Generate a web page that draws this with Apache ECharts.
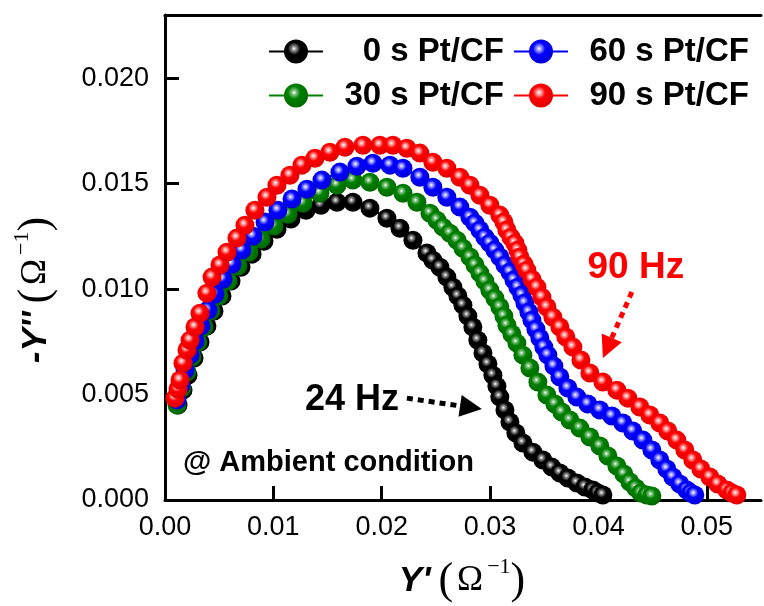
<!DOCTYPE html>
<html>
<head>
<meta charset="utf-8">
<title>Y' vs -Y''</title>
<style>
  html, body { margin: 0; background: #fff; }
  #chart { width: 764px; height: 606px; }
</style>
</head>
<body>
<div id="chart"></div>
<script src="https://cdn.jsdelivr.net/npm/echarts@6/dist/echarts.min.js"></script>
<script>
// tick values
const xTicks = [0, 0.01, 0.02, 0.03, 0.04, 0.05];
const yTicks = [0, 0.005, 0.010, 0.015, 0.020];

const names = ['0 s Pt/CF', '30 s Pt/CF', '60 s Pt/CF', '90 s Pt/CF'];

// [Y', -Y'']
const pt0 = [
  [0.00120, 0.00450], [0.00166, 0.00521], [0.00212, 0.00592], [0.00268, 0.00673],
  [0.00323, 0.00749], [0.00387, 0.00825], [0.00452, 0.00896], [0.00526, 0.00967],
  [0.00609, 0.01038], [0.00701, 0.01104], [0.00803, 0.01166], [0.00913, 0.01227],
  [0.01033, 0.01284], [0.01162, 0.01332], [0.01301, 0.01374], [0.01439, 0.01398],
  [0.01587, 0.01412], [0.01734, 0.01412], [0.01891, 0.01384], [0.02048, 0.01336],
  [0.02168, 0.01289], [0.02288, 0.01232], [0.02417, 0.01171], [0.02472, 0.01137],
  [0.02537, 0.01104], [0.02601, 0.01057], [0.02657, 0.01009], [0.02703, 0.00967],
  [0.02749, 0.00924], [0.02795, 0.00872], [0.02841, 0.00820], [0.02887, 0.00758],
  [0.02934, 0.00697], [0.02980, 0.00645], [0.03026, 0.00592], [0.03063, 0.00540],
  [0.03090, 0.00488], [0.03137, 0.00427], [0.03183, 0.00370], [0.03238, 0.00318],
  [0.03303, 0.00270], [0.03395, 0.00227], [0.03487, 0.00190], [0.03570, 0.00156],
  [0.03644, 0.00128], [0.03718, 0.00104], [0.03801, 0.00081], [0.03875, 0.00062],
  [0.03948, 0.00047], [0.03994, 0.00033], [0.04041, 0.00024]
];
const pt30 = [
  [0.00111, 0.00450], [0.00157, 0.00531], [0.00203, 0.00607], [0.00249, 0.00678],
  [0.00304, 0.00749], [0.00360, 0.00820], [0.00424, 0.00896], [0.00498, 0.00967],
  [0.00581, 0.01038], [0.00673, 0.01109], [0.00775, 0.01175], [0.00886, 0.01237],
  [0.01006, 0.01299], [0.01135, 0.01355], [0.01273, 0.01408], [0.01430, 0.01455],
  [0.01587, 0.01493], [0.01734, 0.01517], [0.01891, 0.01507], [0.02048, 0.01483],
  [0.02196, 0.01455], [0.02325, 0.01412], [0.02445, 0.01360], [0.02509, 0.01327],
  [0.02565, 0.01294], [0.02629, 0.01265], [0.02694, 0.01232], [0.02749, 0.01194],
  [0.02814, 0.01152], [0.02860, 0.01114], [0.02906, 0.01076], [0.02952, 0.01038],
  [0.02998, 0.00995], [0.03044, 0.00957], [0.03090, 0.00915], [0.03127, 0.00872],
  [0.03155, 0.00829], [0.03201, 0.00787], [0.03247, 0.00744], [0.03303, 0.00687],
  [0.03367, 0.00626], [0.03441, 0.00559], [0.03524, 0.00498], [0.03598, 0.00455],
  [0.03662, 0.00417], [0.03736, 0.00379], [0.03828, 0.00341], [0.03921, 0.00299],
  [0.04013, 0.00256], [0.04087, 0.00209], [0.04170, 0.00161], [0.04234, 0.00123],
  [0.04290, 0.00085], [0.04345, 0.00057], [0.04391, 0.00033], [0.04446, 0.00024],
  [0.04493, 0.00019]
];
const pt60 = [
  [0.00111, 0.00474], [0.00148, 0.00545], [0.00185, 0.00616], [0.00231, 0.00687],
  [0.00277, 0.00754], [0.00332, 0.00825], [0.00397, 0.00900], [0.00461, 0.00976],
  [0.00535, 0.01047], [0.00618, 0.01118], [0.00710, 0.01185], [0.00812, 0.01251],
  [0.00923, 0.01318], [0.01042, 0.01374], [0.01172, 0.01427], [0.01310, 0.01474],
  [0.01448, 0.01517], [0.01614, 0.01555], [0.01771, 0.01583], [0.01919, 0.01597],
  [0.02076, 0.01588], [0.02196, 0.01573], [0.02352, 0.01531], [0.02472, 0.01483],
  [0.02601, 0.01436], [0.02721, 0.01389], [0.02814, 0.01341], [0.02860, 0.01313],
  [0.02906, 0.01280], [0.02952, 0.01246], [0.02998, 0.01218], [0.03044, 0.01185],
  [0.03090, 0.01152], [0.03137, 0.01114], [0.03183, 0.01081], [0.03220, 0.01043],
  [0.03256, 0.01009], [0.03293, 0.00972], [0.03321, 0.00934], [0.03358, 0.00891],
  [0.03386, 0.00853], [0.03423, 0.00810], [0.03459, 0.00768], [0.03496, 0.00725],
  [0.03533, 0.00687], [0.03589, 0.00635], [0.03644, 0.00583], [0.03718, 0.00531],
  [0.03801, 0.00488], [0.03902, 0.00455], [0.04013, 0.00427], [0.04124, 0.00398],
  [0.04225, 0.00365], [0.04317, 0.00327], [0.04410, 0.00284], [0.04493, 0.00237],
  [0.04566, 0.00190], [0.04631, 0.00147], [0.04686, 0.00109], [0.04751, 0.00076],
  [0.04815, 0.00047], [0.04852, 0.00033], [0.04889, 0.00024]
];
const pt90 = [
  [0.00092, 0.00483], [0.00120, 0.00526], [0.00138, 0.00569], [0.00166, 0.00649],
  [0.00203, 0.00711], [0.00231, 0.00758], [0.00277, 0.00820], [0.00323, 0.00886],
  [0.00387, 0.00981], [0.00434, 0.01057], [0.00507, 0.01114], [0.00572, 0.01175],
  [0.00664, 0.01242], [0.00738, 0.01303], [0.00830, 0.01374], [0.00941, 0.01436],
  [0.01033, 0.01493], [0.01153, 0.01540], [0.01264, 0.01588], [0.01384, 0.01621],
  [0.01522, 0.01649], [0.01661, 0.01673], [0.01827, 0.01682], [0.01983, 0.01682],
  [0.02103, 0.01682], [0.02232, 0.01668], [0.02352, 0.01645], [0.02472, 0.01602],
  [0.02601, 0.01573], [0.02721, 0.01531], [0.02814, 0.01493], [0.02906, 0.01445],
  [0.02998, 0.01398], [0.03090, 0.01351], [0.03127, 0.01318], [0.03155, 0.01280],
  [0.03192, 0.01246], [0.03229, 0.01218], [0.03256, 0.01185], [0.03275, 0.01152],
  [0.03312, 0.01118], [0.03339, 0.01090], [0.03386, 0.01047], [0.03432, 0.01009],
  [0.03478, 0.00962], [0.03524, 0.00915], [0.03579, 0.00867], [0.03644, 0.00820],
  [0.03699, 0.00773], [0.03764, 0.00725], [0.03838, 0.00664], [0.03921, 0.00602],
  [0.04041, 0.00559], [0.04170, 0.00521], [0.04271, 0.00483], [0.04382, 0.00441],
  [0.04474, 0.00403], [0.04566, 0.00365], [0.04640, 0.00327], [0.04723, 0.00284],
  [0.04797, 0.00237], [0.04871, 0.00190], [0.04945, 0.00147], [0.05028, 0.00109],
  [0.05101, 0.00076], [0.05185, 0.00047], [0.05231, 0.00033], [0.05277, 0.00024]
];

const FONT = 'Liberation Sans, Arial, sans-serif';
const SERIF = 'Liberation Serif, Times New Roman, serif';

// shiny ball look
function ball(c, hi, dark) {
  return new echarts.graphic.RadialGradient(0.42, 0.38, 0.62, [
    { offset: 0, color: '#ffffff' },
    { offset: 0.16, color: hi },
    { offset: 0.42, color: c },
    { offset: 1, color: dark }
  ]);
}

function mk(name, data, c, hi, dark) {
  return {
    name: name,
    type: 'line',
    data: data,
    symbol: 'circle',
    symbolSize: 19,
    showAllSymbol: true,
    lineStyle: { color: c, width: 2.5 },
    itemStyle: { color: ball(c, hi, dark) },
    emphasis: { disabled: true },
    silent: true
  };
}

const chart = echarts.init(document.getElementById('chart'));

const legendBase = {
  orient: 'vertical',
  top: 35,
  padding: 0,
  itemWidth: 54,
  itemHeight: 30,
  itemGap: 11,
  selectedMode: false,
  formatter: n => '{t|' + n + '}',
  textStyle: {
    rich: {
      t: {
        width: 176, align: 'right', fontSize: 33, fontWeight: 'bold',
        fontFamily: FONT, color: '#000', lineHeight: 30
      }
    }
  }
};

const option = {
  backgroundColor: '#fff',
  animation: false,
  grid: { left: 165, right: 3, top: 15, bottom: 106, outerBoundsMode: 'none' },
  legend: [
    Object.assign({}, legendBase, { left: 268, data: [names[0], names[1]] }),
    Object.assign({}, legendBase, { left: 513, data: [names[2], names[3]] })
  ],
  xAxis: [{
    type: 'value', min: 0, max: 0.055, position: 'bottom',
    axisLine: { show: true, onZero: false, lineStyle: { color: '#000', width: 3 } },
    axisTick: { show: true, inside: true, length: 14, customValues: xTicks, lineStyle: { color: '#000', width: 3 } },
    axisLabel: {
      customValues: xTicks, formatter: v => v.toFixed(2), margin: 14,
      fontSize: 27, color: '#000', fontFamily: FONT
    },
    splitLine: { show: false }
  }, {
    type: 'value', min: 0, max: 0.055, position: 'top',
    axisLine: { show: true, onZero: false, lineStyle: { color: '#000', width: 3 } },
    axisTick: { show: false }, axisLabel: { show: false }, splitLine: { show: false }
  }],
  yAxis: {
    type: 'value', min: 0, max: 0.023,
    axisLine: { show: true, onZero: false, lineStyle: { color: '#000', width: 3 } },
    axisTick: { show: true, inside: true, length: 14, customValues: yTicks, lineStyle: { color: '#000', width: 3 } },
    axisLabel: {
      customValues: yTicks, formatter: v => v.toFixed(3), margin: 16,
      fontSize: 27, color: '#000', fontFamily: FONT
    },
    splitLine: { show: false }
  },
  series: [
    mk(names[0], pt0, '#000000', '#8a8a8a', '#000000'),
    mk(names[1], pt30, '#008000', '#7fc07f', '#006800'),
    mk(names[2], pt60, '#0000ff', '#9a9aff', '#0000d8'),
    mk(names[3], pt90, '#ff0000', '#ff9c9c', '#e00000')
  ]
};

chart.setOption(option);

// annotations placed in data units
const px = p => chart.convertToPixel({ gridIndex: 0 }, p);

function arrow(from, to, color) {
  const a = px(from), b = px(to);
  const dx = b[0] - a[0], dy = b[1] - a[1], len = Math.hypot(dx, dy);
  const ux = dx / len, uy = dy / len;
  const head = 22, half = 11;
  const bx = b[0] - ux * head, by = b[1] - uy * head;
  return [
    { type: 'line', shape: { x1: a[0], y1: a[1], x2: bx, y2: by },
      style: { stroke: color, lineWidth: 5, lineDash: [6, 5] } },
    { type: 'polygon', shape: { points: [[b[0], b[1]], [bx - uy * half, by + ux * half], [bx + uy * half, by - ux * half]] },
      style: { fill: color } }
  ];
}

function label(at, text, size, color, align) {
  const p = px(at);
  return {
    type: 'text', x: p[0], y: p[1],
    style: { text: text, fontSize: size, fontWeight: 'bold', fontFamily: FONT, fill: color,
      align: align || 'center', verticalAlign: 'middle' }
  };
}

const titleRich = {
  b: { fontSize: 35, fontWeight: 'bold', fontStyle: 'italic', fontFamily: FONT, color: '#000',
       lineHeight: 50, verticalAlign: 'middle', padding: [0, 8, 0, 0] },
  p: { fontSize: 44, fontFamily: SERIF, color: '#000', lineHeight: 50, verticalAlign: 'middle' },
  o: { fontSize: 35, fontFamily: SERIF, color: '#000', lineHeight: 50, verticalAlign: 'middle', padding: [0, 4, 0, 4] },
  s: { fontSize: 22, fontFamily: SERIF, color: '#000', lineHeight: 24, verticalAlign: 'top' }
};

chart.setOption({
  graphic: [
    label([0.01725, 0.00474], '24 Hz', 36, '#000'),
    ...arrow([0.02232, 0.00483], [0.02924, 0.00431], '#000'),
    label([0.04345, 0.01100], '90 Hz', 37, '#ff0000'),
    ...arrow([0.04308, 0.00986], [0.04041, 0.00673], '#ff0000'),
    label([0.00166, 0.00175], '@ Ambient condition', 29, '#000', 'left'),
    {
      type: 'text', x: 462, y: 581,
      style: { text: "{b|Y'}{p|(}{o|Ω}{s|−1}{p|)}", rich: titleRich, align: 'center', verticalAlign: 'middle' }
    },
    {
      type: 'text', x: 36, y: 290, rotation: Math.PI / 2,
      style: { text: "{b|-Y''}{p|(}{o|Ω}{s|−1}{p|)}", rich: titleRich, align: 'center', verticalAlign: 'middle' }
    }
  ]
});
</script>
</body>
</html>
